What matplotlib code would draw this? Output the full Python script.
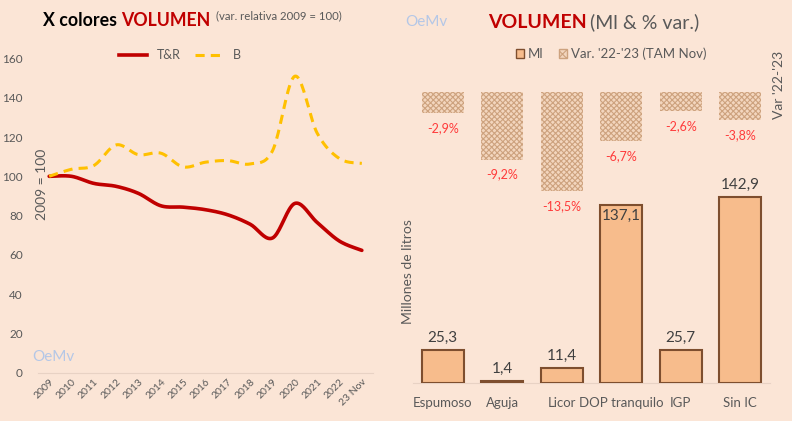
import numpy as np
import matplotlib
matplotlib.use("Agg")
import matplotlib.pyplot as plt
from matplotlib.lines import Line2D
from matplotlib.patches import Patch

plt.rcParams['font.family'] = ['Lato', 'DejaVu Sans']
plt.rcParams['hatch.linewidth'] = 0.8

# ---------------- data ----------------
years = ["2009", "2010", "2011", "2012", "2013", "2014", "2015", "2016",
         "2017", "2018", "2019", "2020", "2021", "2022", "23 Nov"]
tr_vals = [100, 100, 96.4, 94.9, 91.3, 85, 84.3, 83, 80.4, 75.6, 68.6, 86.2, 76.5, 67, 62.3]
b_vals = [100, 103.6, 105.5, 116, 111, 111.8, 104.8, 107.2, 108, 106.3, 113, 151, 122, 109, 106.6]

categories = ["Espumoso", "Aguja", "Licor", "DOP tranquilo", "IGP", "Sin IC"]
ml_vals = [25.3, 1.4, 11.4, 137.1, 25.7, 142.9]
var_vals = [-2.9, -9.2, -13.5, -6.7, -2.6, -3.8]

BG = '#FBE5D6'
RED = '#C00000'
YEL = '#FFC000'
GRAY = '#595959'
BAR = '#F7BC8C'
BAR_EDGE = '#7E4E2E'


def smooth(y, n=20):
    """Catmull-Rom curve through the data points (Excel-like smoothed line)."""
    y = np.asarray(y, float)
    x = np.arange(len(y), dtype=float)
    P = np.column_stack([x, y])
    P = np.vstack([P[0], P, P[-1]])
    out = []
    for i in range(1, len(P) - 2):
        p0, p1, p2, p3 = P[i - 1], P[i], P[i + 1], P[i + 2]
        t = np.linspace(0, 1, n, endpoint=False)[:, None]
        c = 0.5 * ((2 * p1) + (-p0 + p2) * t + (2 * p0 - 5 * p1 + 4 * p2 - p3) * t ** 2
                   + (-p0 + 3 * p1 - 3 * p2 + p3) * t ** 3)
        out.append(c)
    out.append(P[-2][None, :])
    c = np.vstack(out)
    return c[:, 0], c[:, 1]


W, H = 792, 421
fig = plt.figure(figsize=(W / 100, H / 100), dpi=100, facecolor=BG)

def fx(px):
    return px / W

def fy(py):
    return 1 - py / H

# ---------------- left chart ----------------
axL = fig.add_axes([fx(38), fy(372.7), fx(373) - fx(38), fy(58.5) - fy(372.7)])
axL.set_facecolor(BG)
xs, ys = smooth(tr_vals)
axL.plot(xs, ys, color=RED, lw=2.6, solid_capstyle='round')
xs, ys = smooth(b_vals)
axL.plot(xs, ys, color=YEL, lw=2.2, ls=(0, (3, 2)))
axL.set_xlim(-0.5, 14.5)
axL.set_ylim(0, 160)
axL.set_yticks(range(0, 161, 20))
axL.set_xticks(range(len(years)))
axL.set_xticklabels(years, rotation=45, ha='right', rotation_mode='anchor')
axL.tick_params(axis='both', length=0, colors=GRAY, labelsize=8.5)
axL.tick_params(axis='y', pad=11)
axL.tick_params(axis='x', pad=3, labelsize=7.5)
for s in ['top', 'right', 'left']:
    axL.spines[s].set_visible(False)
axL.spines['bottom'].set_color('#E8D2C4')
axL.spines['bottom'].set_linewidth(0.8)

leg = axL.legend(handles=[Line2D([], [], color=RED, lw=2.6, label='T&R'),
                          Line2D([], [], color=YEL, lw=2.2, ls=(0, (3, 2)), label='B')],
                 loc='center', ncol=2, frameon=False, fontsize=9, labelcolor=GRAY,
                 handlelength=2.2, columnspacing=1.2)
leg.set_bbox_to_anchor((fx(180), fy(55)), transform=fig.transFigure)

fig.text(fx(42), fy(184), '2009 = 100', rotation=90, ha='center', va='center',
         fontsize=10, color=GRAY)
fig.text(fx(32), fy(357), 'OeMv', fontsize=11, color='#B4C7E7', ha='left', va='center')

# left title
t1 = fig.text(fx(43), fy(20), 'X colores ', fontsize=12.8, fontweight='bold', color='#000000',
              ha='left', va='center')
fig.canvas.draw()
r = fig.canvas.get_renderer()
bb = t1.get_window_extent(r)
t2 = fig.text(bb.x1 / W, fy(20), 'VOLUMEN', fontsize=12.8, fontweight='bold', color=RED,
              ha='left', va='center')
bb2 = t2.get_window_extent(r)
fig.text(bb2.x1 / W + 0.007, fy(16), '(var. relativa 2009 = 100)', fontsize=8.2, color=GRAY,
         ha='left', va='center')

# ---------------- right chart ----------------
axR = fig.add_axes([fx(413), fy(383), fx(770) - fx(413), fy(92) - fy(383)])
axR.set_facecolor('none')
x = np.arange(len(categories))
axR.bar(x, ml_vals, width=0.71, color=BAR, edgecolor=BAR_EDGE, linewidth=1.5, zorder=3)
axR.set_xlim(-0.5, 5.5)
axR.set_ylim(0, 224)
axR.set_yticks([])
axR.set_xticks(x)
axR.set_xticklabels(categories)
axR.tick_params(axis='x', length=0, colors=GRAY, labelsize=9.5, pad=10)
for s in ['top', 'right', 'left']:
    axR.spines[s].set_visible(False)
axR.spines['bottom'].set_color('#E8D2C4')
axR.spines['bottom'].set_linewidth(0.8)
for i, v in enumerate(ml_vals):
    lbl = f"{v:.1f}".replace('.', ',')
    if categories[i] == 'DOP tranquilo':
        axR.text(i, v - 3, lbl, ha='center', va='top', fontsize=11, color='#404040', zorder=5)
    else:
        axR.text(i, v + 4, lbl, ha='center', va='bottom', fontsize=11, color='#404040', zorder=5)

axV = axR.twinx()
axV.set_ylim(-39.5, 0)
axV.bar(x, var_vals, width=0.71, facecolor='#F3D6BE', edgecolor='#CDA27E', hatch='xxxxxx',
        linewidth=0, zorder=2)
axV.set_yticks([])
for s in axV.spines.values():
    s.set_visible(False)
for i, v in enumerate(var_vals):
    lbl = f"{v:.1f}%".replace('.', ',')
    axV.text(i, v - 1.2, lbl, ha='center', va='top', fontsize=9, color='#FF3B3B')

fig.text(fx(408), fy(272), 'Millones de litros', rotation=90, ha='center', va='center',
         fontsize=10, color=GRAY)
fig.text(fx(779), fy(85), "Var '22-'23", rotation=90, ha='center', va='center',
         fontsize=10, color=GRAY)
fig.text(fx(405), fy(22), 'OeMv', fontsize=11, color='#B4C7E7', ha='left', va='center')

t3 = fig.text(fx(488), fy(22), 'VOLUMEN', fontsize=14, fontweight='bold', color=RED,
              ha='left', va='center')
bb3 = t3.get_window_extent(r)
fig.text(bb3.x1 / W + 0.004, fy(22), '(Ml & % var.)', fontsize=14, color=GRAY,
         ha='left', va='center')

fig.legend(handles=[Patch(facecolor=BAR, edgecolor=BAR_EDGE, label='Ml'),
                    Patch(facecolor='#F3D6BE', edgecolor='#CDA27E', hatch='xxxx',
                          label="Var. '22-'23 (TAM Nov)")],
           loc='center', bbox_to_anchor=(fx(611), fy(54)), ncol=2, frameon=False, fontsize=9.5,
           labelcolor=GRAY, handlelength=0.6, handleheight=0.6, handletextpad=0.3,
           columnspacing=1.2)

fig.savefig('out.png', dpi=100, facecolor=BG)
